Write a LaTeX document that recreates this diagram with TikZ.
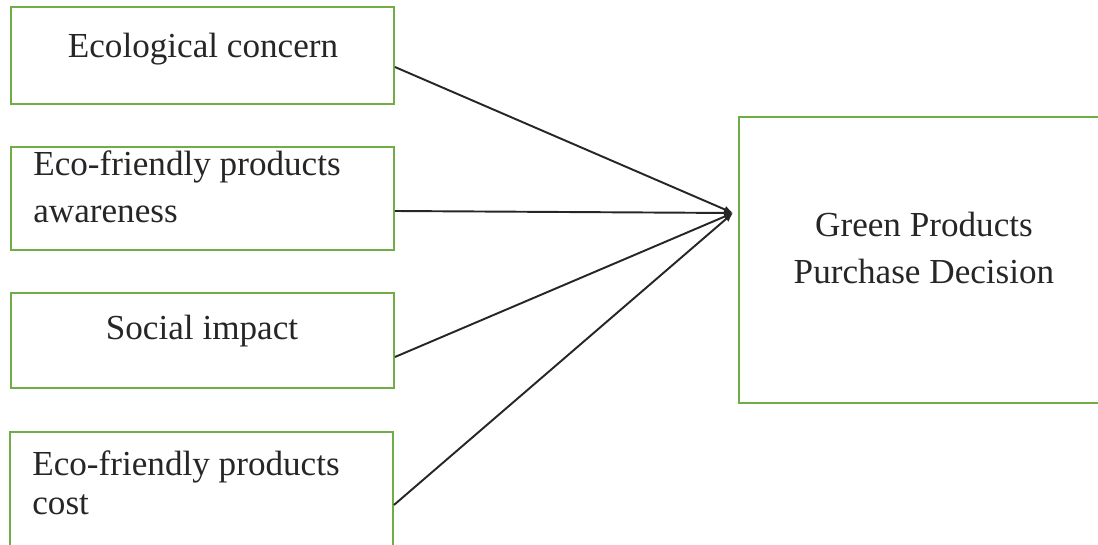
\documentclass[tikz,border=0pt]{standalone}
\usepackage{fontspec}
\setmainfont{Liberation Serif}
\usetikzlibrary{arrows.meta}
\definecolor{boxgreen}{RGB}{112,173,71}
\begin{document}
\begin{tikzpicture}
[
x=0.02cm, y=-0.02cm,
every node/.style ={font=\fontsize{20}{26.7}\selectfont},
inner sep=0mm,
fbox/.style={rectangle, draw=boxgreen, line width=1.1pt, minimum width=7.66cm},
dbox/.style={rectangle, draw=boxgreen, line width=1.1pt, minimum width=7.42cm, minimum height=5.72cm},
txt/.style={text=black!85, align=left},
link/.style={line width=1.1pt, black!85, -{Latex[length=1.8mm,width=1.5mm]}},
],
%
\useasboundingbox (0,0) rectangle (1098,544);
\clip (0,0) rectangle (1098,544);

% factor boxes
\node [fbox, minimum height=1.94cm]  (eco)   at (202.5, 55.5)  {};
\node [fbox, minimum height=2.06cm]  (aware) at (202.5, 198.5) {};
\node [fbox, minimum height=1.90cm]  (soc)   at (202.5, 340.5) {};
\node [fbox, minimum height=2.56cm]  (cost)  at (201.5, 496)   {};
%
\node [dbox] (dec) at (924.5, 260) {};

% texts (base = last line)
\node [txt, anchor=base]      (ecoT)   at (203, 58)  {Ecological concern};
\node [txt, anchor=base west] (awareT) at (33, 222)  {Eco-friendly products\\awareness};
\node [txt, anchor=base]      (socT)   at (202, 339) {Social impact};
\node [txt, anchor=base west, font=\fontsize{20}{22.2}\selectfont]
                              (costT)  at (32, 514)  {Eco-friendly products\\cost};
\node [txt, anchor=base, align=center, font=\fontsize{20}{26.2}\selectfont]
                              (decT)   at (924, 283) {Green Products\\Purchase Decision};

%
\coordinate (hub) at (733, 213);
\draw [link]  ([yshift=-0.23cm]eco.east)   -- (hub) ;
\draw [link]  ([yshift=-0.25cm]aware.east) -- (hub) ;
\draw [link]  ([yshift=-0.33cm]soc.east)   -- (hub) ;
\draw [link]  ([yshift=-0.18cm]cost.east)  -- (hub) ;
%
\end{tikzpicture}
\end{document}
